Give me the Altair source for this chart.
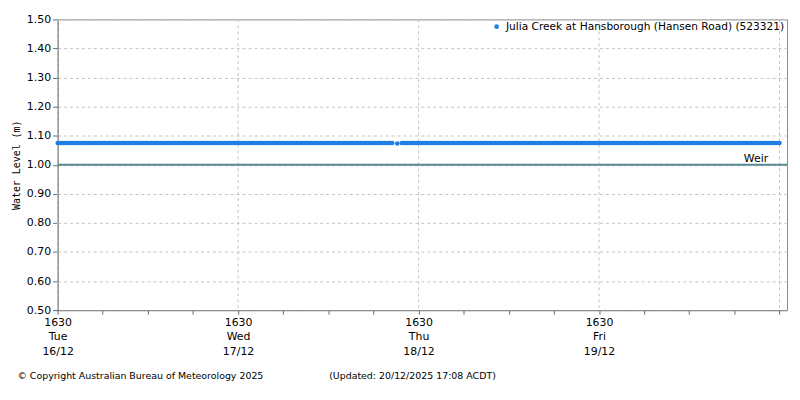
import altair as alt
import pandas as pd

# ---- data ----
series_name = "Julia Creek at Hansborough (Hansen Road) (523321)"
start_time = "2025-12-16T16:30:00Z"
end_time = "2025-12-20T16:30:00Z"
gap_start = "2025-12-18T13:15:00Z"
gap_end = "2025-12-18T14:00:00Z"
level_value = 1.075
dip_time = "2025-12-18T13:40:00Z"
dip_value = 1.073
weir_level = [1.0]
weir_label_time = ["2025-12-20T15:00:00Z"]
major_ticks = ["2025-12-16T16:30:00Z", "2025-12-17T16:30:00Z", "2025-12-18T16:30:00Z",
               "2025-12-19T16:30:00Z", "2025-12-20T16:30:00Z"]
y_ticks = [0.5, 0.6, 0.7, 0.8, 0.9, 1.0, 1.1, 1.2, 1.3, 1.4, 1.5]
x_domain = ["2025-12-16T16:30:00Z", "2025-12-20T17:30:00Z"]
copyright_text = "© Copyright Australian Bureau of Meteorology 2025"
updated_text = "(Updated: 20/12/2025 17:08 ACDT)"

# observation timestamps (15-minute readings)
times = pd.date_range(start_time, end_time, freq="15min")
times = [t for t in times if not (pd.Timestamp(gap_start) <= t <= pd.Timestamp(gap_end))]
levels = [level_value] * len(times)
obs = pd.DataFrame({
    "time": [t.strftime("%Y-%m-%dT%H:%M:%SZ") for t in times] + [dip_time],
    "level": levels + [dip_value],
    "series": [series_name] * (len(times) + 1),
})

minor_ticks = [t.strftime("%Y-%m-%dT%H:%M:%SZ")
               for t in pd.date_range("2025-12-16T16:30:00Z", "2025-12-20T16:30:00Z", freq="6h")]

def dt(s):
    t = pd.Timestamp(s)
    return alt.DateTime(year=t.year, month=t.month, date=t.day, hours=t.hour,
                        minutes=t.minute, utc=True)

FONT = "DejaVu Sans"
blue = "#1f7fe6"

xscale = alt.Scale(type="utc", domain=[dt(x_domain[0]), dt(x_domain[1])], nice=False)
yscale = alt.Scale(domain=[0.5, 1.5], nice=False, zero=False)

label_expr = ("utchours(datum.value) == 16 && utcdate(datum.value) < 20 ? "
              "[utcFormat(datum.value, '%H%M'), utcFormat(datum.value, '%a'), "
              "utcFormat(datum.value, '%d/%m')] : ''")

xaxis = alt.Axis(values=[dt(s) for s in minor_ticks], labelExpr=label_expr, grid=False,
                 title=None, labelFont=FONT, labelFontSize=11, labelColor="#000",
                 labelLineHeight=15, labelOverlap=False, labelFlush=False,
                 tickColor="#666", domainColor="#888", tickSize=4, labelPadding=2)
yaxis = alt.Axis(values=y_ticks, format=".2f", grid=True, gridDash=[3, 3],
                 gridColor="#c4c4c4", title="Water Level (m)", titleFont="DejaVu Sans Mono",
                 titleFontSize=10, titleFontWeight="normal", titleColor="#000",
                 titlePadding=5, labelFont=FONT, labelFontSize=11, labelColor="#000",
                 labelOverlap=False, labelFlush=False, tickCount=11,
                 tickColor="#666", domainColor="#888", tickSize=5)

grid_df = pd.DataFrame({"time": major_ticks})
vgrid = alt.Chart(grid_df).mark_rule(color="#c4c4c4", strokeDash=[3, 3], strokeWidth=1).encode(
    x=alt.X("time:T", scale=xscale, axis=xaxis)
)

weir_df = pd.DataFrame({"level": weir_level})
weir = alt.Chart(weir_df).mark_rule(color="#548a92", strokeWidth=2).encode(
    y=alt.Y("level:Q", scale=yscale, axis=yaxis)
)

weir_text_df = pd.DataFrame({"time": weir_label_time, "level": weir_level, "label": ["Weir"]})
weir_text = alt.Chart(weir_text_df).mark_text(
    align="right", baseline="bottom", dy=-1, font=FONT, fontSize=11, color="#000"
).encode(
    x=alt.X("time:T", scale=xscale, axis=xaxis),
    y=alt.Y("level:Q", scale=yscale, axis=yaxis),
    text="label:N"
)

points = alt.Chart(obs).mark_circle(size=21, opacity=1).encode(
    x=alt.X("time:T", scale=xscale, axis=xaxis),
    y=alt.Y("level:Q", scale=yscale, axis=yaxis),
    color=alt.Color("series:N", scale=alt.Scale(domain=[series_name], range=[blue]),
                    legend=alt.Legend(title=None, orient="top-right", offset=2,
                                      symbolType="circle", symbolSize=22,
                                      labelFont=FONT, labelFontSize=10.7, labelColor="#000",
                                      padding=0, labelLimit=400)),
)

nbsp = "\u00a0"
chart = alt.layer(vgrid, weir, weir_text, points).properties(
    width=735, height=293,
    autosize=alt.AutoSizeParams(type="none"),
    padding={"left": 50, "top": 10, "right": 5, "bottom": 80},
    title=alt.TitleParams(text=copyright_text + nbsp * 22 + updated_text, orient="bottom",
                          anchor="start", dx=6, offset=14, font=FONT, fontSize=9.5,
                          fontWeight="normal", color="#000"),
).configure_view(stroke="#888", strokeWidth=1)

chart.save("out.html", embed_options={"renderer": "svg", "actions": False})
